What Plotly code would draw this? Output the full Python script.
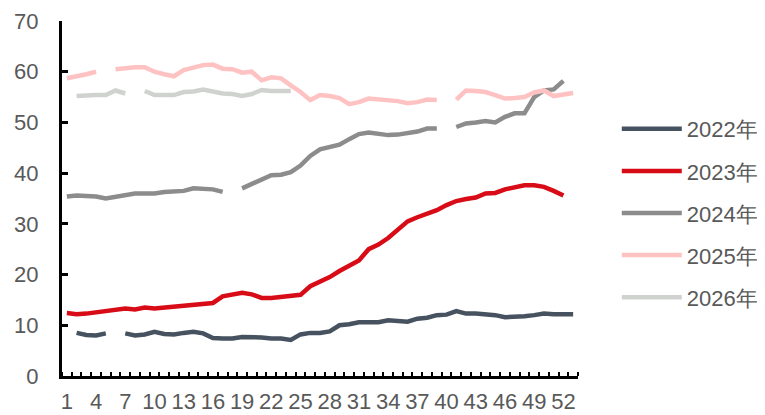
import plotly.graph_objects as go

weeks = list(range(1, 54))
tick_weeks = list(range(1, 53, 3))
tick_labels = [str(w) for w in tick_weeks]

series_names = ["2022年", "2023年", "2024年", "2025年", "2026年"]

y2022 = [None, 8.5, 8.1, 8.0, 8.4, None, 8.4, 8.0, 8.2, 8.7,
         8.3, 8.2, 8.5, 8.7, 8.4, 7.5, 7.4, 7.4, 7.7, 7.7,
         7.6, 7.4, 7.4, 7.1, 8.2, 8.5, 8.5, 8.8, 10.0, 10.2,
         10.6, 10.6, 10.6, 11.0, 10.9, 10.7, 11.3, 11.5, 12.0, 12.1,
         12.8, 12.3, 12.3, 12.2, 12.0, 11.6, 11.6, 11.8, 12.0, 12.3,
         12.2, 12.2, 12.2]
y2023 = [12.4, 12.2, 12.3, 12.6, 12.9, 13.1, 13.3, 13.1, 13.5, 13.3,
         13.5, 13.5, 13.9, 14.1, 14.2, 14.4, 15.7, 16.0, 16.4, 16.1,
         15.4, 15.4, 15.6, 16.0, 16.0, 17.7, 18.5, 19.5, 20.7, 21.7,
         22.8, 25.0, 25.9, 27.2, 29.0, 30.5, 31.3, 31.9, 32.7, 33.7,
         34.5, 34.9, 35.2, 36.0, 36.1, 36.8, 37.2, 37.6, 37.6, 37.3,
         36.5, 35.6, None]
y2024 = [35.4, 35.6, 35.5, 35.4, 35.0, 35.4, 35.8, 36.0, 36.0, 36.0,
         36.3, 36.5, 36.5, 37.0, 37.0, 36.8, 36.3, None, 37.0, 37.8,
         38.8, 39.6, 39.7, 40.2, 41.5, 43.4, 44.7, 45.2, 45.6, 46.7,
         47.7, 48.0, 47.8, 47.5, 47.6, 47.8, 48.2, 48.8, 48.8, None,
         49.1, 49.8, 50.0, 50.3, 50.0, 51.1, 51.8, 51.8, 55.0, 56.3,
         56.5, 58.2, None]
y2025 = [58.7, 59.0, 59.5, 60.0, None, 60.5, 60.8, 60.9, 60.9, 60.0,
         59.5, 59.1, 60.3, 60.9, 61.3, 61.4, 60.6, 60.5, 59.8, 60.0,
         58.3, 58.9, 58.7, 57.3, 56.0, 54.4, 55.4, 55.2, 54.8, 53.6,
         54.0, 54.7, 54.6, 54.5, 54.2, 53.8, 54.0, 54.5, 54.4, None,
         54.5, 56.3, 56.2, 56.0, 55.4, 54.7, 54.8, 55.0, 55.9, 56.3,
         55.2, 55.5, 55.8]
y2026 = [None, 55.2, 55.4, 55.4, 55.4, 56.3, 55.7, None, 56.2, 55.4,
         55.4, 55.4, 56.0, 56.1, 56.5, 56.0, 55.7, 55.6, 55.2, 55.6,
         56.4, 56.2, 56.2, 56.2] + [None] * 29

series_values = [y2022, y2023, y2024, y2025, y2026]
colors = ["#46525F", "#D80C16", "#8C8C8C", "#FFC2C2", "#D0D2D0"]

fig = go.Figure()
for name, vals, col in zip(series_names, series_values, colors):
    fig.add_trace(go.Scatter(
        x=weeks, y=vals, name=name, mode="lines",
        line=dict(color=col, width=4.5),
        connectgaps=False, legendgroup=name,
    ))

font_family = "Liberation Sans, Arial, sans-serif"
# the page body has an 8px margin, so margins are offset by 8px
fig.update_layout(
    width=765, height=415,
    margin=dict(l=54, r=195, t=13, b=47, autoexpand=False),
    paper_bgcolor="white", plot_bgcolor="white",
    font=dict(family=font_family, size=22, color="#595959"),
    showlegend=True,
    legend=dict(
        xref="container", yref="container",
        x=0.7958, xanchor="left", y=0.759, yanchor="top",
        font=dict(size=22, color="#595959"),
        itemwidth=60,
        tracegroupgap=10.5, bgcolor="rgba(0,0,0,0)",
    ),
    xaxis=dict(
        range=[0.5, 53.5], tickmode="array", tickvals=tick_weeks, ticktext=tick_labels,
        ticks="", showline=True, linecolor="black", linewidth=3, showgrid=False,
        zeroline=False, ticklabelstandoff=4, automargin=False,
        minor=dict(ticks="inside", tick0=0.5, dtick=1, ticklen=4, tickwidth=2, tickcolor="black"),
        tickfont=dict(size=22, color="#595959"),
    ),
    yaxis=dict(
        range=[0, 70], dtick=10, ticks="inside", ticklen=6, tickwidth=2.5, tickcolor="black",
        showline=True, linecolor="black", linewidth=3, showgrid=False, zeroline=False,
        ticklabelstandoff=16, automargin=False, tickfont=dict(size=22, color="#595959"),
    ),
)

fig.write_html("out.html")
